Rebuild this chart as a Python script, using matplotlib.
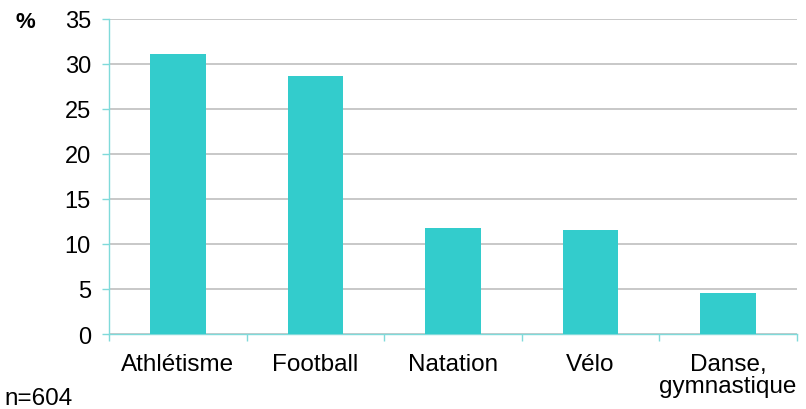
import matplotlib.pyplot as plt
import numpy as np

plt.rcParams['font.family'] = ['Liberation Sans', 'DejaVu Sans']

categories = ['Athlétisme', 'Football', 'Natation', 'Vélo', 'Danse,\ngymnastique']
values = [31.1, 28.6, 11.8, 11.5, 4.6]
yticks = [0, 5, 10, 15, 20, 25, 30, 35]

teal = '#33CCCC'
axis_col = '#7FDADA'

fig = plt.figure(figsize=(8.06, 4.10), dpi=100)
ax = fig.add_axes([0.1352, 0.1829, 0.8536, 0.7695])

x = np.arange(len(categories))
ax.bar(x, values, width=0.405, color=teal, zorder=3)

ax.set_xlim(-0.5, len(categories) - 0.5)
ax.set_ylim(0, 35)
ax.set_yticks(yticks)
ax.set_yticklabels([str(v) for v in yticks], fontsize=17)
ax.set_xticks(x)
ax.set_xticklabels(categories, fontsize=17.5, linespacing=1.0)
ax.set_xticks(np.arange(len(categories) + 1) - 0.5, minor=True)

ax.grid(axis='y', color='#BFBFBF', linewidth=1.2, zorder=0)
ax.tick_params(axis='x', which='major', length=0, pad=14)
ax.tick_params(axis='x', which='minor', length=5, color=axis_col, width=1)
ax.tick_params(axis='y', length=5, color=axis_col, width=1, pad=8)

for side in ['top', 'right']:
    ax.spines[side].set_visible(False)
for side in ['left', 'bottom']:
    ax.spines[side].set_color(axis_col)
    ax.spines[side].set_linewidth(1)

fig.text(0.031, 0.945, '%', fontsize=16, fontweight='bold', ha='center', va='center')
fig.text(0.006, 0.028, 'n=604', fontsize=17.5, ha='left', va='center')

fig.savefig('out.png', dpi=100)
